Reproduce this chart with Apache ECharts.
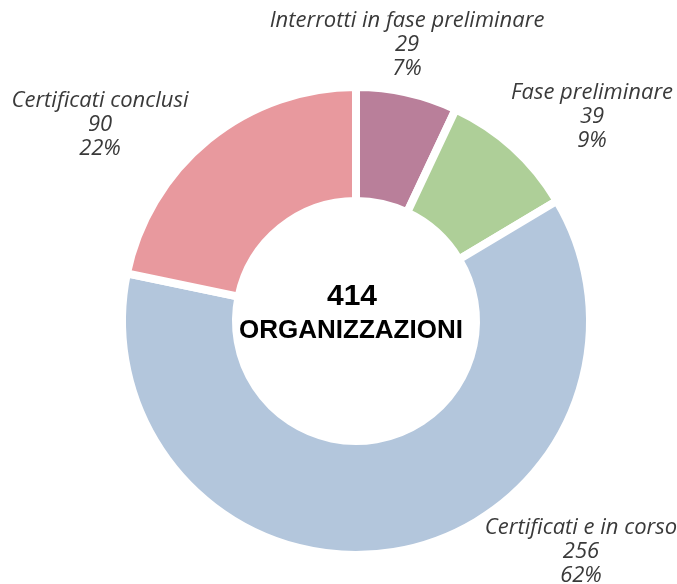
<!DOCTYPE html>
<html><head><meta charset="utf-8">
<script src="https://cdn.jsdelivr.net/npm/echarts@6/dist/echarts.min.js"></script>
<style>html,body{margin:0;padding:0;background:#fff}#c{width:677px;height:584px}</style>
</head><body><div id="c"></div>
<script>
const categories = ['Interrotti in fase preliminare', 'Fase preliminare', 'Certificati e in corso', 'Certificati conclusi'];
const values = [29, 39, 256, 90];
const percents = ['7%', '9%', '62%', '22%'];
const total = 414;
const centerLabel = 'ORGANIZZAZIONI';

const colors = ['#b97f9a', '#aecf98', '#b3c6dc', '#e8999e'];
const labelPos = [[407, 45], [592, 117], [581, 552], [100, 125]];

const chart = echarts.init(document.getElementById('c'), null, {renderer: 'canvas'});
chart.setOption({
  animation: false,
  graphic: [
    {type: 'text', x: 352, y: 297, z: 100, style: {text: String(total), fontFamily: '"Liberation Sans", Arial, sans-serif', fontWeight: 'bold', fontSize: 30, fill: '#000', align: 'center', verticalAlign: 'middle'}},
    {type: 'text', x: 351, y: 331, z: 100, style: {text: centerLabel, fontFamily: '"Liberation Sans", Arial, sans-serif', fontWeight: 'bold', fontSize: 26, fill: '#000', align: 'center', verticalAlign: 'middle'}}
  ],
  series: [{
    type: 'pie',
    z: 1,
    center: [356, 321],
    radius: [120, 234],
    startAngle: 90,
    clockwise: true,
    itemStyle: {borderColor: '#fff', borderWidth: 8},
    label: {
      show: true,
      position: 'outside',
      formatter: p => p.name + '\n' + p.value + '\n' + percents[p.dataIndex],
      fontFamily: '"Open Sans", "Noto Sans", sans-serif',
      fontStyle: 'italic',
      fontSize: 22,
      lineHeight: 24,
      color: '#3a3a3a',
      align: 'center',
      verticalAlign: 'middle',
      overflow: 'none',
      width: 340
    },
    labelLine: {show: false},
    labelLayout: p => ({x: labelPos[p.dataIndex][0], y: labelPos[p.dataIndex][1], align: 'center', verticalAlign: 'middle', hideOverlap: false, moveOverlap: null}),
    data: categories.map((c, i) => ({name: c, value: values[i], itemStyle: {color: colors[i]}}))
  }]
});
</script></body></html>
